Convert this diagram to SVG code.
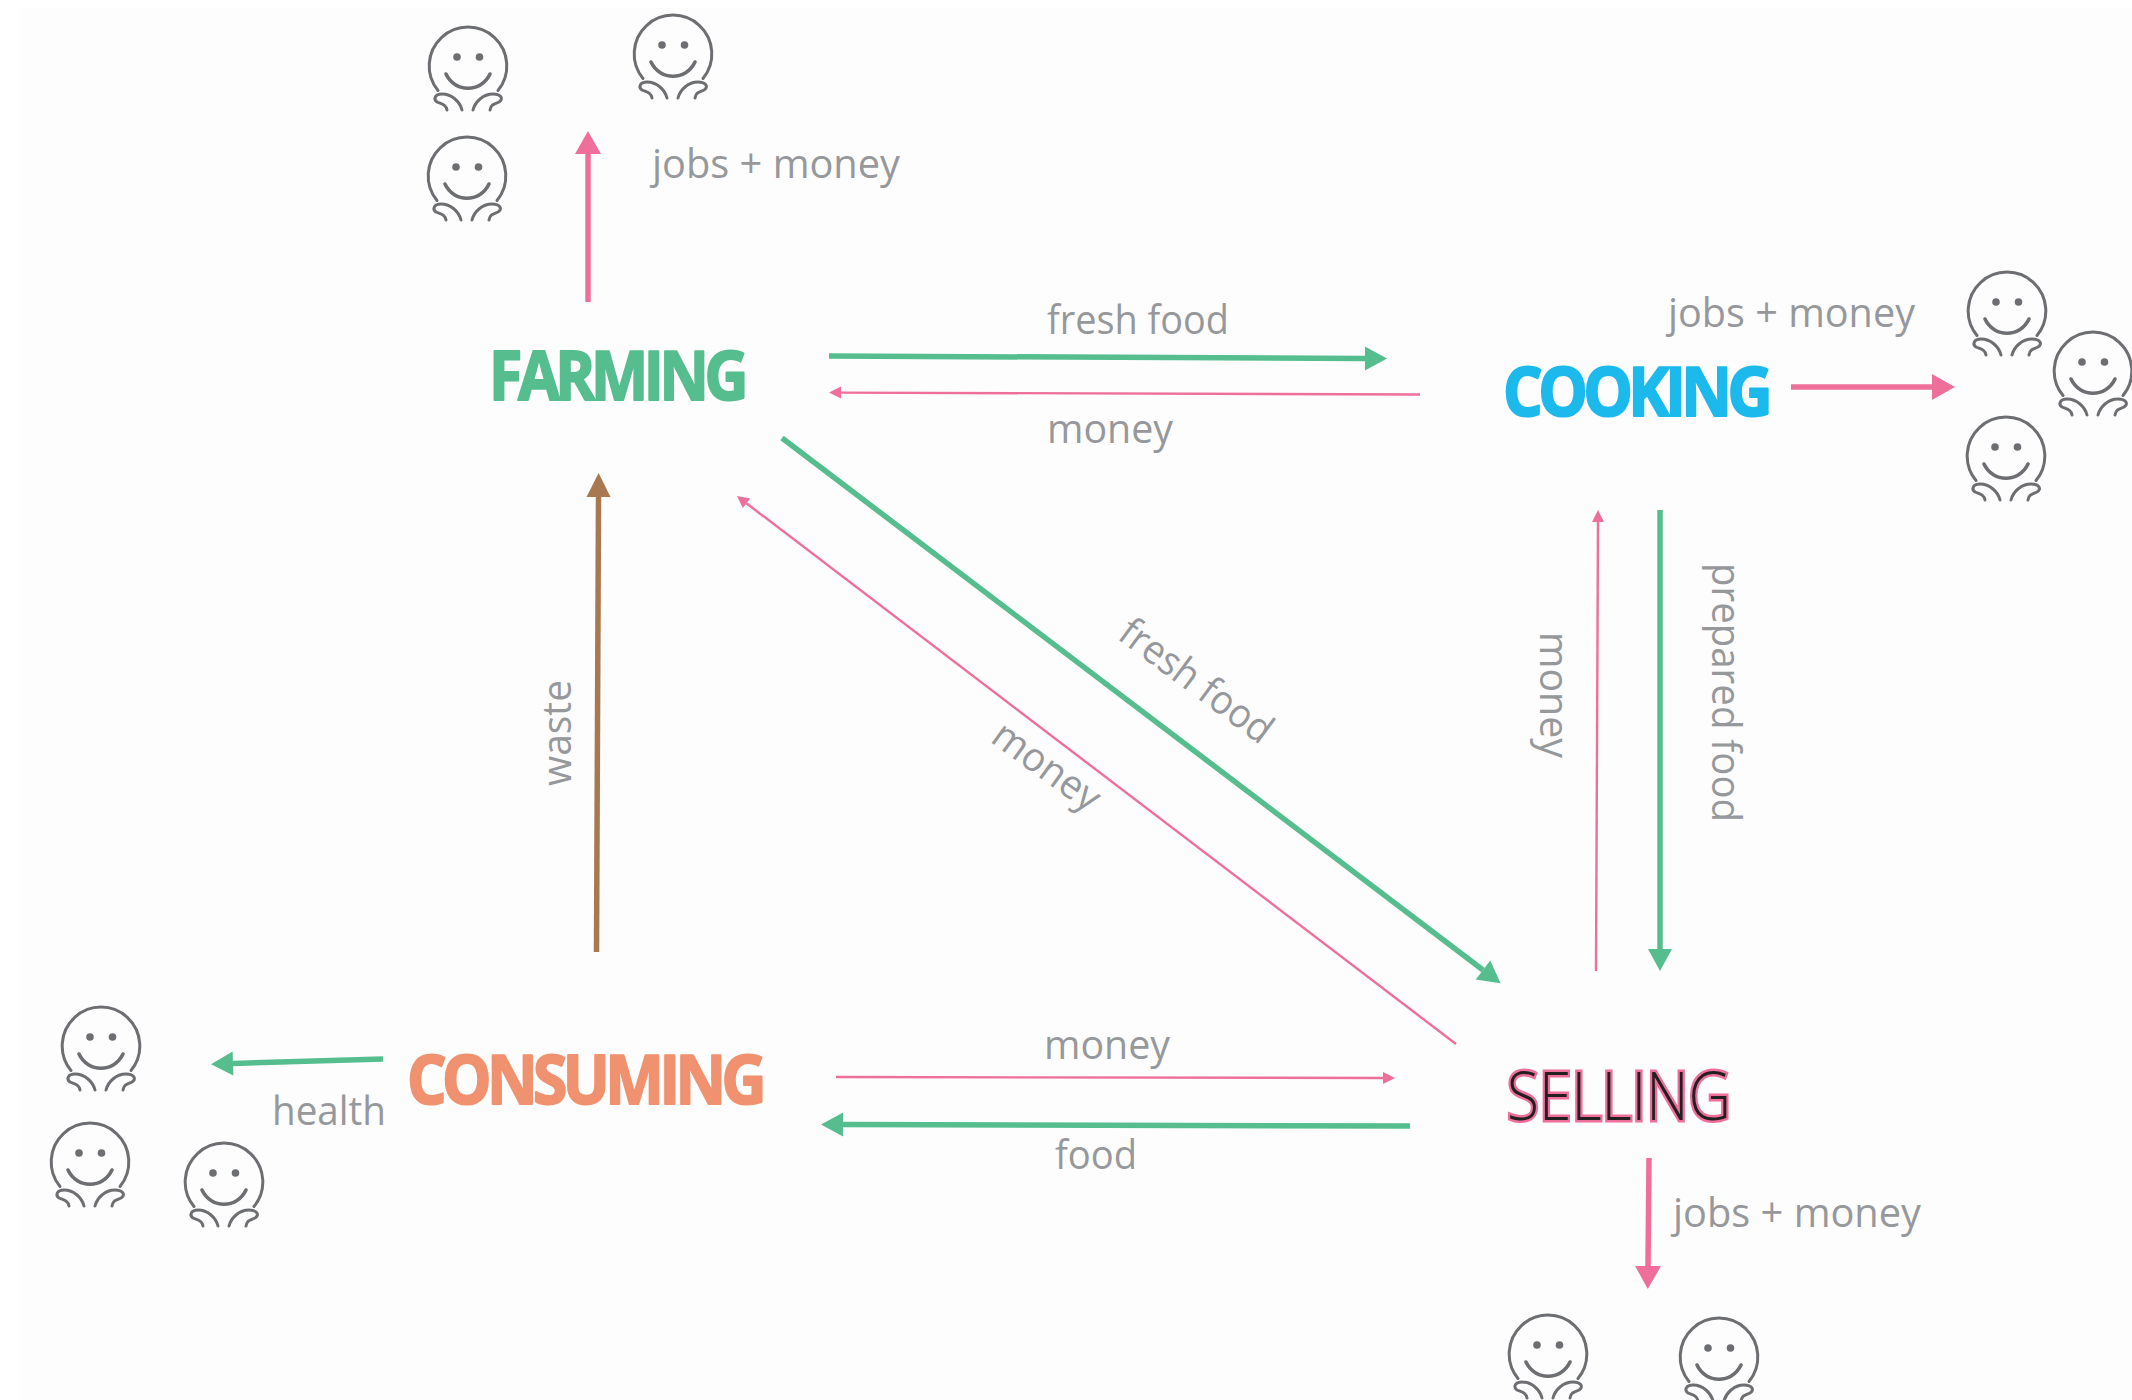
<svg xmlns="http://www.w3.org/2000/svg" width="2132" height="1400" viewBox="0 0 2132 1400">
<style>
.lbl{font-family:"Open Sans","Noto Sans",sans-serif;font-size:40px;fill:#96989b;font-weight:400}
.node{font-family:"Open Sans","Noto Sans",sans-serif;font-size:68px;font-weight:700;stroke-width:2;stroke-linejoin:round;letter-spacing:-5px}
.c{fill:none;stroke-linecap:butt}
.pk{stroke:#ee6f9a}.gr{stroke:#56bd8e}.br{stroke:#a87850}
.big{stroke-width:5.5}.sm{stroke-width:2.4}
.face{fill:none;stroke:#6d6e71;stroke-width:3;stroke-linecap:round}
.eye{fill:#6d6e71}
</style>
<defs>
<marker id="hp" markerUnits="userSpaceOnUse" markerWidth="24" markerHeight="28" refX="0" refY="14" orient="auto" overflow="visible"><path d="M0,1V27L23,14Z" fill="#ee6f9a"/></marker>
<marker id="hg" markerUnits="userSpaceOnUse" markerWidth="24" markerHeight="28" refX="0" refY="14" orient="auto" overflow="visible"><path d="M0,2V26L22,14Z" fill="#56bd8e"/></marker>
<marker id="hb" markerUnits="userSpaceOnUse" markerWidth="24" markerHeight="28" refX="0" refY="14" orient="auto" overflow="visible"><path d="M0,2V26L24,14Z" fill="#a87850"/></marker>
<marker id="hs" markerUnits="userSpaceOnUse" markerWidth="13" markerHeight="14" refX="0" refY="7" orient="auto" overflow="visible"><path d="M0,1V13L12,7Z" fill="#ee6f9a"/></marker>
<symbol id="smiley" overflow="visible" width="100" height="100" viewBox="0 0 100 100">
<g transform="translate(50,51)">
<path class="face" d="M-30,24.500 A38.800,38.800 0 1 1 30,24.500"/>
<circle class="eye" cx="-11" cy="-9" r="3.800"/><circle class="eye" cx="11.500" cy="-9" r="3.800"/>
<path class="face" style="stroke-width:3.600" d="M-22,8 C-13,27 13,27 22,8"/>
<path class="face" d="M-6,44 C-8,36 -16,28 -26,28 C-33,28 -35,33 -31,36 C-27,38 -22,38 -21,44"/>
<path class="face" d="M5,44 C7,36 15,28 25,28 C33,28 36,33 31,36 C27,38 23,38 22,44"/>
</g>
</symbol>
</defs>
<rect width="2132" height="1400" fill="#ffffff"/>
<rect x="20" y="8" width="2112" height="1392" fill="#fdfdfd"/>

<g id="connectors">
<path class="c pk big" d="M588,302V154" marker-end="url(#hp)"/>
<path class="c gr big" d="M829,356L1365,358.500" marker-end="url(#hg)"/>
<path class="c pk sm" d="M1420,394.500L841,392.600" marker-end="url(#hs)"/>
<path class="c pk big" d="M1791,387H1932" marker-end="url(#hp)"/>
<path class="c gr big" d="M1660,510V949" marker-end="url(#hg)"/>
<path class="c pk sm" d="M1596,971L1598,522" marker-end="url(#hs)"/>
<path class="c gr big" d="M782,438L1483,970" marker-end="url(#hg)"/>
<path class="c pk sm" d="M1456,1044L746.500,503.300" marker-end="url(#hs)"/>
<path class="c br big" d="M596.500,952L598.500,497" marker-end="url(#hb)"/>
<path class="c pk sm" d="M836,1077L1383,1078" marker-end="url(#hs)"/>
<path class="c gr big" d="M1410,1126L843,1124.500" marker-end="url(#hg)"/>
<path class="c gr big" d="M383,1059L233,1063.500" marker-end="url(#hg)"/>
<path class="c pk big" d="M1649,1158L1648,1266" marker-end="url(#hp)"/>
</g>

<g id="edge-labels">
<text class="lbl" x="652" y="177.500" textLength="248" lengthAdjust="spacingAndGlyphs">jobs + money</text>
<text class="lbl" x="1047" y="333.500" textLength="182" lengthAdjust="spacingAndGlyphs">fresh food</text>
<text class="lbl" x="1047" y="443" textLength="126" lengthAdjust="spacingAndGlyphs">money</text>
<text class="lbl" x="1668" y="326.500" textLength="247" lengthAdjust="spacingAndGlyphs">jobs + money</text>
<text class="lbl" transform="translate(1712,563) rotate(90)" textLength="259" lengthAdjust="spacingAndGlyphs">prepared food</text>
<text class="lbl" transform="translate(1540,632) rotate(90)" textLength="126" lengthAdjust="spacingAndGlyphs">money</text>
<text class="lbl" transform="translate(571,786) rotate(-90)" textLength="106" lengthAdjust="spacingAndGlyphs">waste</text>
<text class="lbl" transform="translate(1116,638) rotate(36.600)" textLength="180" lengthAdjust="spacingAndGlyphs">fresh food</text>
<text class="lbl" transform="translate(989,741) rotate(36)" textLength="123" lengthAdjust="spacingAndGlyphs">money</text>
<text class="lbl" x="1044" y="1058.500" textLength="126" lengthAdjust="spacingAndGlyphs">money</text>
<text class="lbl" x="1055" y="1168.500" textLength="82" lengthAdjust="spacingAndGlyphs">food</text>
<text class="lbl" x="272" y="1124.500" textLength="114" lengthAdjust="spacingAndGlyphs">health</text>
<text class="lbl" x="1673" y="1226.500" textLength="248" lengthAdjust="spacingAndGlyphs">jobs + money</text>
</g>

<g id="farming"><text class="node" x="489" y="400" fill="#56bd8e" stroke="#56bd8e" textLength="255" lengthAdjust="spacingAndGlyphs">FARMING</text></g>
<g id="cooking"><text class="node" x="1503" y="416" fill="#1cb9ec" stroke="#1cb9ec" textLength="265" lengthAdjust="spacingAndGlyphs">COOKING</text></g>
<g id="consuming"><text class="node" x="407" y="1104" fill="#f0916f" stroke="#f0916f" textLength="355" lengthAdjust="spacingAndGlyphs">CONSUMING</text></g>
<g id="selling"><text x="1507" y="1120" font-family="'Open Sans','Noto Sans',sans-serif" font-size="66" font-weight="300" fill="#231f20" stroke="#ee6f9a" stroke-width="5" paint-order="stroke" textLength="224" lengthAdjust="spacingAndGlyphs">SELLING</text></g>

<g id="people-farming">
<use href="#smiley" x="418" y="15"/><use href="#smiley" x="623" y="3"/><use href="#smiley" x="417" y="125"/>
</g>
<g id="people-cooking">
<use href="#smiley" x="1957" y="260"/><use href="#smiley" x="2043" y="320"/><use href="#smiley" x="1956" y="405"/>
</g>
<g id="people-consuming">
<use href="#smiley" x="51" y="995"/><use href="#smiley" x="40" y="1111"/><use href="#smiley" x="174" y="1131"/>
</g>
<g id="people-selling">
<use href="#smiley" x="1498" y="1303"/><use href="#smiley" x="1669" y="1306"/>
</g>
</svg>
